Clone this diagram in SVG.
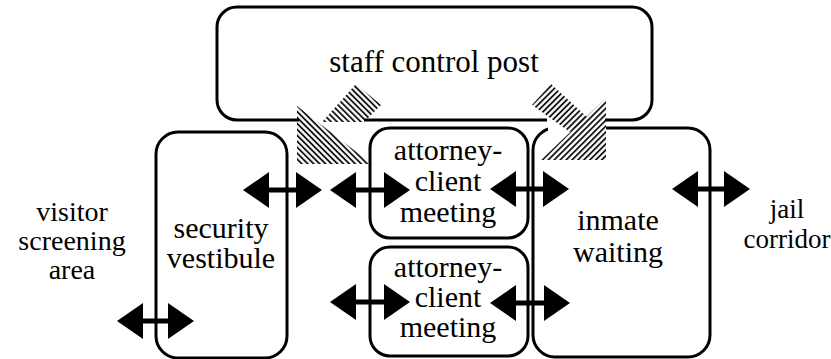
<svg xmlns="http://www.w3.org/2000/svg" width="831" height="359" viewBox="0 0 831 359">
<style>
.box{fill:none;stroke:#000;stroke-width:3}
.lbl{font-family:"Liberation Serif","Times New Roman","DejaVu Serif",serif;font-size:30px;fill:#000;text-anchor:middle}
.shaft{stroke:#000;stroke-width:5;fill:none}
.wh{fill:#fff;stroke:none}
</style>
<defs>
<pattern id="hb" width="4.2" height="10" patternUnits="userSpaceOnUse" patternTransform="rotate(-45)">
<line x1="1" y1="0" x2="1" y2="10" stroke="#000" stroke-width="1.7"/>
</pattern>
<pattern id="hf" width="4.2" height="10" patternUnits="userSpaceOnUse" patternTransform="rotate(45)">
<line x1="1" y1="0" x2="1" y2="10" stroke="#000" stroke-width="1.7"/>
</pattern>
<marker id="ah" viewBox="0 0 26 36" refX="13" refY="18" markerWidth="26" markerHeight="36" markerUnits="userSpaceOnUse" orient="auto-start-reverse">
<path d="M0,0 L26,18 L0,36 Z" fill="#000"/>
</marker>
</defs>
<rect width="831" height="359" fill="#fff"/>

<g id="staff-control-post">
<rect class="box" x="217" y="7" width="435" height="113" rx="20"/>
<text class="lbl" x="434" y="72" style="font-size:31px">staff control post</text>
</g>

<g id="security-vestibule">
<rect class="box" x="156" y="132" width="131" height="226" rx="22"/>
<text class="lbl" x="221" y="238">security</text>
<text class="lbl" x="221" y="268">vestibule</text>
</g>

<g id="attorney-client-1">
<rect class="box" x="370" y="128" width="158" height="110" rx="20"/>
<text class="lbl" x="448" y="160">attorney-</text>
<text class="lbl" x="448" y="191">client</text>
<text class="lbl" x="448" y="222">meeting</text>
</g>

<g id="attorney-client-2">
<rect class="box" x="370" y="247" width="158" height="109" rx="20"/>
<text class="lbl" x="448" y="277">attorney-</text>
<text class="lbl" x="448" y="307">client</text>
<text class="lbl" x="448" y="337">meeting</text>
</g>

<g id="inmate-waiting">
<rect class="box" x="533" y="128" width="177" height="229" rx="22"/>
<text class="lbl" x="618" y="230">inmate</text>
<text class="lbl" x="618" y="262">waiting</text>
</g>

<g id="visitor-screening-area">
<text class="lbl" x="72" y="221" style="font-size:28px">visitor</text>
<text class="lbl" x="72" y="250" style="font-size:28px">screening</text>
<text class="lbl" x="72" y="279" style="font-size:28px">area</text>
</g>

<g id="jail-corridor">
<text class="lbl" x="787" y="218" style="font-size:27px">jail</text>
<text class="lbl" x="787" y="248" style="font-size:27px">corridor</text>
</g>

<g id="sightlines">
<rect class="wh" x="299" y="116" width="65" height="7"/>
<rect class="wh" x="547" y="116" width="58" height="7"/>
<rect class="wh" x="548" y="125" width="58" height="7"/>
<polygon points="322,122 356,84 381,105 364,122" fill="url(#hb)"/>
<polygon points="297,106 372,164 297,164" fill="url(#hb)"/>
<polygon points="532,105 551,84 588,118 570,132" fill="url(#hf)"/>
<polygon points="606,98 541,160 606,160" fill="url(#hf)"/>
</g>

<g id="connectors">
<line class="shaft" x1="256" y1="190" x2="309" y2="190" marker-start="url(#ah)" marker-end="url(#ah)"/>
<line class="shaft" x1="343" y1="190" x2="397" y2="190" marker-start="url(#ah)" marker-end="url(#ah)"/>
<line class="shaft" x1="503" y1="189" x2="556" y2="189" marker-start="url(#ah)" marker-end="url(#ah)"/>
<line class="shaft" x1="685" y1="189" x2="737" y2="189" marker-start="url(#ah)" marker-end="url(#ah)"/>
<line class="shaft" x1="130" y1="321" x2="181" y2="321" marker-start="url(#ah)" marker-end="url(#ah)"/>
<line class="shaft" x1="343" y1="302" x2="397" y2="302" marker-start="url(#ah)" marker-end="url(#ah)"/>
<line class="shaft" x1="503" y1="303" x2="557" y2="303" marker-start="url(#ah)" marker-end="url(#ah)"/>
</g>
</svg>
